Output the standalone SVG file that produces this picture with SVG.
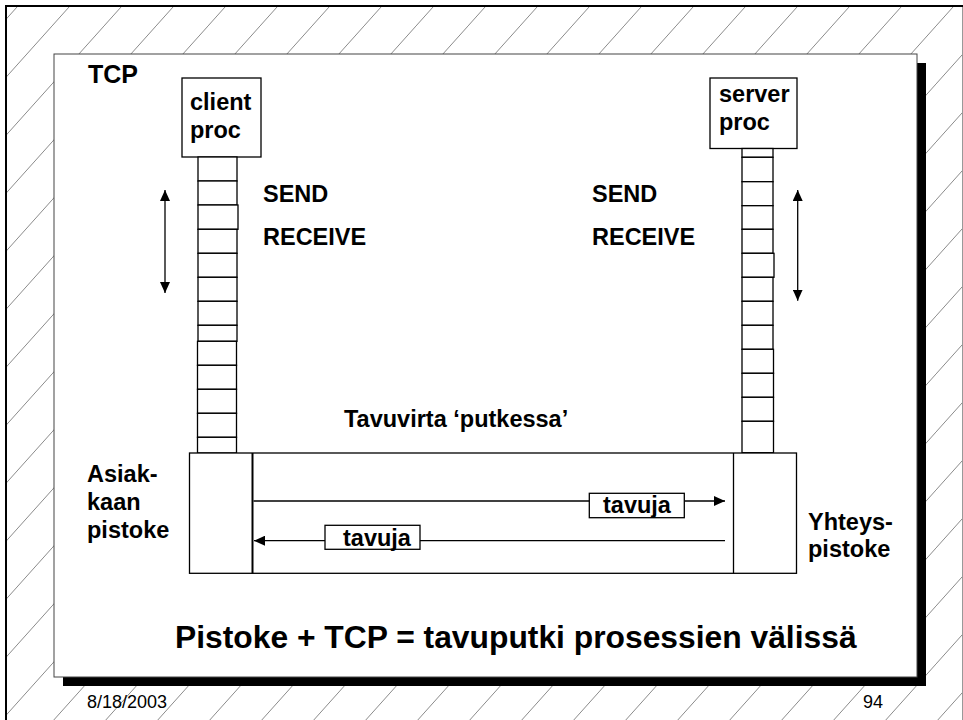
<svg xmlns="http://www.w3.org/2000/svg" width="963" height="720" viewBox="0 0 963 720">
<style>
.lbl{font-family:"Liberation Sans",Arial,sans-serif;font-weight:bold;font-size:23.5px;fill:#000}
.ft{font-family:"Liberation Sans",Arial,sans-serif;font-size:18px;fill:#000}
.box{fill:#fff;stroke:#000;stroke-width:1.3}
.cell{fill:#fff;stroke:#000;stroke-width:1.3}
.ln{fill:none;stroke:#000;stroke-width:1.3}
</style>
<defs>
<pattern id="hatch" patternUnits="userSpaceOnUse" x="0" y="26" width="52" height="58">
<line x1="-1" y1="59.1" x2="53" y2="-1.1" stroke="#8a8a8a" stroke-width="1"/>
</pattern>
<marker id="ah" viewBox="0 0 11 10" refX="11" refY="5" markerWidth="11" markerHeight="10" markerUnits="userSpaceOnUse" orient="auto-start-reverse">
<path d="M0,0 L11,5 L0,10 z" fill="#000"/>
</marker>
</defs>

<g id="background">
<rect x="0" y="0" width="963" height="720" fill="#fff"/>
<rect x="7" y="7" width="956" height="713" fill="url(#hatch)"/>
<line x1="6" y1="6" x2="6" y2="720" stroke="#000" stroke-width="2"/>
<line x1="5" y1="6" x2="963" y2="6" stroke="#000" stroke-width="2"/>
<line x1="962.5" y1="7" x2="962.5" y2="720" stroke="#999" stroke-width="1"/>
<rect x="63" y="63" width="863" height="623" fill="#000"/>
<rect x="54" y="54" width="863" height="623" fill="#fff" stroke="#444" stroke-width="1"/>
<text class="ft" x="87" y="708">8/18/2003</text>
<text class="ft" x="863" y="708">94</text>
</g>

<g id="tcp-title">
<text class="lbl" x="88" y="83" style="font-size:25px">TCP</text>
</g>

<g id="client-proc">
<rect class="box" x="182" y="78" width="79" height="79"/>
<text class="lbl" x="190" y="110">client</text>
<text class="lbl" x="190" y="138">proc</text>
</g>

<g id="server-proc">
<rect class="box" x="710" y="78" width="87" height="70.5"/>
<text class="lbl" x="719" y="102">server</text>
<text class="lbl" x="719" y="130">proc</text>
</g>

<g id="client-stack">
<rect class="cell" x="198" y="157" width="39" height="24"/>
<rect class="cell" x="198" y="181" width="39" height="24"/>
<rect class="cell" x="198" y="205" width="40" height="24.3"/>
<rect class="cell" x="198" y="229.3" width="39" height="24"/>
<rect class="cell" x="198" y="253.3" width="39" height="24"/>
<rect class="cell" x="198" y="277.3" width="39" height="24"/>
<rect class="cell" x="198" y="301.3" width="39" height="24"/>
<rect class="cell" x="198" y="325.3" width="39" height="16"/>
<rect class="cell" x="197.5" y="341.3" width="39" height="24"/>
<rect class="cell" x="197.5" y="365.3" width="39" height="24"/>
<rect class="cell" x="197.5" y="389.3" width="39" height="24"/>
<rect class="cell" x="197.5" y="413.3" width="39" height="24"/>
<rect class="cell" x="197.5" y="437.3" width="39" height="15.7"/>
</g>

<g id="server-stack">
<rect class="cell" x="742" y="148.5" width="31" height="8.8"/>
<rect class="cell" x="742" y="157.3" width="31" height="24.4"/>
<rect class="cell" x="742" y="181.7" width="31" height="24"/>
<rect class="cell" x="742" y="205.7" width="31" height="23.6"/>
<rect class="cell" x="742" y="229.3" width="31" height="24"/>
<rect class="cell" x="742" y="253.3" width="32" height="24"/>
<rect class="cell" x="742" y="277.3" width="31" height="24"/>
<rect class="cell" x="742" y="301.3" width="31" height="24"/>
<rect class="cell" x="742" y="325.3" width="31" height="24"/>
<rect class="cell" x="742" y="349.3" width="31.5" height="24"/>
<rect class="cell" x="742" y="373.3" width="31.5" height="24"/>
<rect class="cell" x="742" y="397.3" width="31.5" height="24"/>
<rect class="cell" x="742" y="421.3" width="31.5" height="31.4"/>
</g>

<g id="pipe">
<rect class="box" x="189.5" y="453" width="607" height="120.3"/>
<line x1="252.5" y1="453" x2="252.5" y2="573.3" stroke="#000" stroke-width="2"/>
<line x1="733.5" y1="453" x2="733.5" y2="573.3" stroke="#000" stroke-width="1.3"/>
</g>

<g id="connectors">
<line class="ln" x1="165" y1="190" x2="165" y2="293" marker-start="url(#ah)" marker-end="url(#ah)"/>
<line class="ln" x1="797.7" y1="190" x2="797.7" y2="300.7" marker-start="url(#ah)" marker-end="url(#ah)"/>
<line class="ln" x1="253.5" y1="501" x2="725" y2="501" marker-end="url(#ah)"/>
<line class="ln" x1="725" y1="540.7" x2="254" y2="540.7" marker-end="url(#ah)"/>
</g>

<g id="label-tavuja-out">
<rect class="box" x="589.3" y="493.3" width="95" height="24.4"/>
<text class="lbl" x="603" y="513">tavuja</text>
</g>

<g id="label-tavuja-in">
<rect class="box" x="325" y="525.3" width="95" height="24"/>
<text class="lbl" x="343" y="546">tavuja</text>
</g>

<g id="labels">
<text class="lbl" x="263" y="202">SEND</text>
<text class="lbl" x="263" y="245">RECEIVE</text>
<text class="lbl" x="592" y="202">SEND</text>
<text class="lbl" x="592" y="245">RECEIVE</text>
<text class="lbl" x="344" y="427">Tavuvirta ‘putkessa’</text>
<text class="lbl" x="87" y="482">Asiak-</text>
<text class="lbl" x="87" y="510">kaan</text>
<text class="lbl" x="87" y="538">pistoke</text>
<text class="lbl" x="808" y="530">Yhteys-</text>
<text class="lbl" x="808" y="557">pistoke</text>
<text class="lbl" x="175" y="648" style="font-size:31.8px">Pistoke + TCP = tavuputki prosessien välissä</text>
</g>
</svg>
